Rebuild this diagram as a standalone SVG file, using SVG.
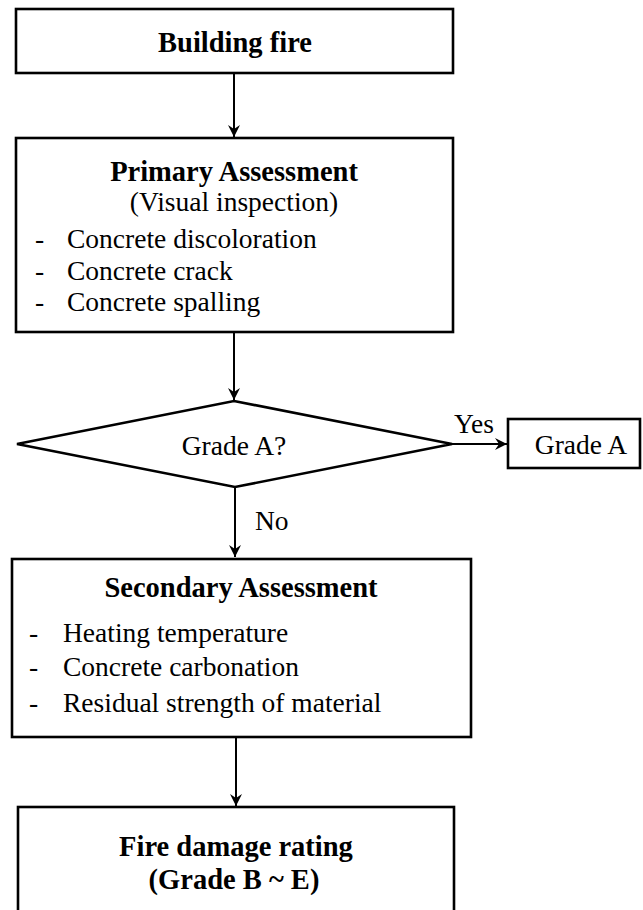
<svg xmlns="http://www.w3.org/2000/svg" width="643" height="910" viewBox="0 0 643 910">
<style>
.box{fill:#fff;stroke:#000;stroke-width:2.6}
.con{fill:none;stroke:#000;stroke-width:2}
text{font-family:"Liberation Serif","Times New Roman",serif;font-size:27.5px;fill:#000}
.b{font-weight:bold;font-size:28.5px}
.c{text-anchor:middle}
</style>
<defs>
<marker id="ah" viewBox="0 0 12 12" refX="12" refY="6" markerWidth="12" markerHeight="12" markerUnits="userSpaceOnUse" orient="auto">
<path d="M0,0 L12,6 L0,12 L4,6 z" fill="#000"/>
</marker>
</defs>
<rect x="0" y="0" width="643" height="910" fill="#fff"/>
<g id="connectors">
<line class="con" x1="234" y1="73" x2="234" y2="137" marker-end="url(#ah)"/>
<line class="con" x1="234" y1="332" x2="234" y2="400" marker-end="url(#ah)"/>
<line class="con" x1="452" y1="444" x2="507" y2="444" marker-end="url(#ah)"/>
<line class="con" x1="235" y1="487" x2="235" y2="557" marker-end="url(#ah)"/>
<line class="con" x1="236" y1="737" x2="236" y2="806" marker-end="url(#ah)"/>
<text x="454" y="433" font-size="25.5">Yes</text>
<text x="255" y="530">No</text>
</g>
<g id="building-fire">
<rect class="box" x="16" y="9" width="437" height="64"/>
<text class="b c" x="235" y="52">Building fire</text>
</g>
<g id="primary">
<rect class="box" x="16" y="138" width="437" height="194"/>
<text class="b c" x="234" y="181">Primary Assessment</text>
<text class="c" x="234" y="211">(Visual inspection)</text>
<text x="35" y="248">-</text><text x="67" y="248">Concrete discoloration</text>
<text x="35" y="280">-</text><text x="67" y="280">Concrete crack</text>
<text x="35" y="311">-</text><text x="67" y="311">Concrete spalling</text>
</g>
<g id="decision">
<polygon class="box" points="234,401 452,444 235,487 17,444"/>
<text class="c" x="234" y="455">Grade A?</text>
</g>
<g id="grade-a">
<rect class="box" x="508" y="419" width="132" height="49"/>
<text class="c" x="581" y="454">Grade A</text>
</g>
<g id="secondary">
<rect class="box" x="12" y="559" width="459" height="178"/>
<text class="b c" x="241" y="597">Secondary Assessment</text>
<text x="29" y="642">-</text><text x="63" y="642">Heating temperature</text>
<text x="29" y="676">-</text><text x="63" y="676">Concrete carbonation</text>
<text x="29" y="712">-</text><text x="63" y="712">Residual strength of material</text>
</g>
<g id="rating">
<rect class="box" x="18" y="807" width="436" height="120"/>
<text class="b c" x="236" y="856">Fire damage rating</text>
<text class="b c" x="234" y="889">(Grade B ~ E)</text>
</g>
</svg>
